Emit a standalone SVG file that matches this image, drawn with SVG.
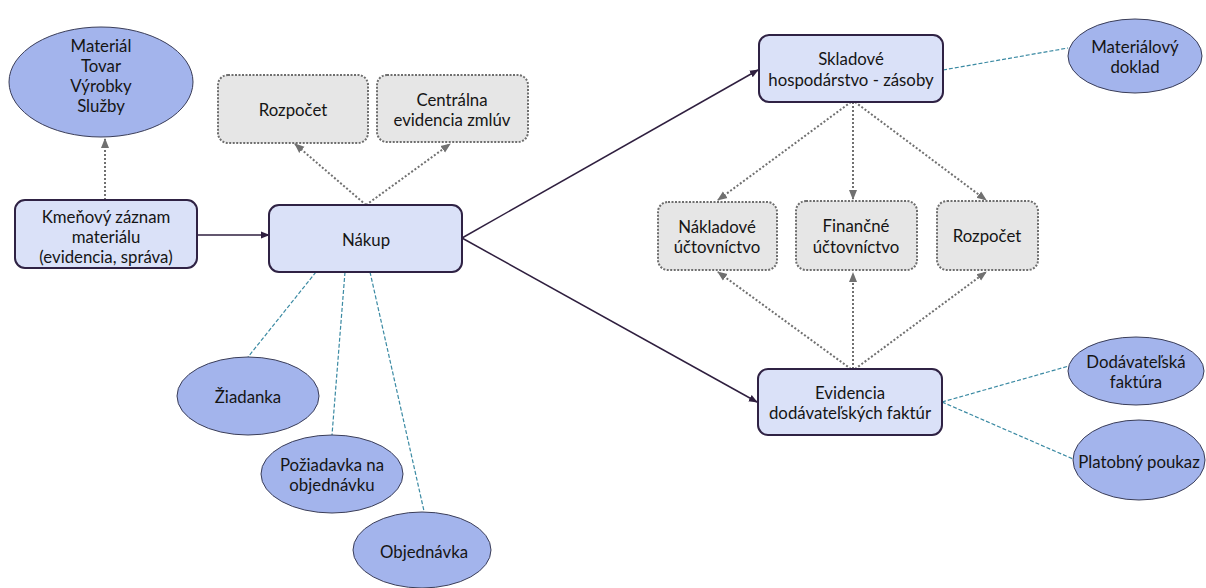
<svg xmlns="http://www.w3.org/2000/svg" width="1206" height="588" viewBox="0 0 1206 588">
<defs>
<style>
text{font-family:Lato,"Open Sans","Liberation Sans",sans-serif;font-size:16.8px;fill:#151515;text-anchor:middle;dominant-baseline:central}
.box{fill:#dae1f8;stroke:#2f2244;stroke-width:2}
.gray{fill:#e6e6e6;stroke:#6e6e6e;stroke-width:2;stroke-dasharray:2 1.5}
.ell{fill:#a3b4ec;stroke:#3a3d58;stroke-width:1}
.solid{stroke:#2f1f3f;stroke-width:1.5;fill:none}
.dot{stroke:#707070;stroke-width:2;stroke-dasharray:2 2;fill:none}
.dash{stroke:#3b8aa3;stroke-width:1.2;stroke-dasharray:4 2;fill:none}
</style>
<marker id="ah" viewBox="0 0 10 10" refX="9" refY="5" markerWidth="6" markerHeight="6" orient="auto"><path d="M0,1 L10,5 L0,9 z" fill="#2f1f3f"/></marker>
<marker id="ahg" viewBox="0 0 10 10" refX="9" refY="5" markerWidth="5" markerHeight="5" orient="auto"><path d="M0,1 L10,5 L0,9 z" fill="#707070"/></marker>
</defs>
<rect width="1206" height="588" fill="#ffffff"/>
<g id="connectors">
<line class="dot" x1="105" y1="200" x2="105" y2="139" marker-end="url(#ahg)"/>
<line class="solid" x1="197" y1="235" x2="269" y2="235" marker-end="url(#ah)"/>
<line class="dot" x1="366" y1="205" x2="295" y2="144" marker-end="url(#ahg)"/>
<line class="dot" x1="366" y1="205" x2="450" y2="144" marker-end="url(#ahg)"/>
<line class="solid" x1="462" y1="238" x2="758" y2="70" marker-end="url(#ah)"/>
<line class="solid" x1="462" y1="238" x2="757" y2="402" marker-end="url(#ah)"/>
<line class="dash" x1="943" y1="70" x2="1068" y2="48"/>
<line class="dot" x1="851" y1="102" x2="718" y2="200" marker-end="url(#ahg)"/>
<line class="dot" x1="853" y1="102" x2="853" y2="199" marker-end="url(#ahg)"/>
<line class="dot" x1="855" y1="102" x2="986" y2="200" marker-end="url(#ahg)"/>
<line class="dot" x1="851" y1="369" x2="718" y2="272" marker-end="url(#ahg)"/>
<line class="dot" x1="853" y1="369" x2="853" y2="273" marker-end="url(#ahg)"/>
<line class="dot" x1="855" y1="369" x2="986" y2="272" marker-end="url(#ahg)"/>
<line class="dash" x1="942" y1="402" x2="1069" y2="366"/>
<line class="dash" x1="942" y1="402" x2="1073" y2="459"/>
<line class="dash" x1="316" y1="272" x2="248" y2="357"/>
<line class="dash" x1="345" y1="272" x2="332" y2="435"/>
<line class="dash" x1="370" y1="272" x2="424" y2="511"/>
</g>
<g id="material">
<ellipse class="ell" cx="101" cy="82" rx="92" ry="55"/>
<text x="101" y="45">Materiál</text>
<text x="101" y="65">Tovar</text>
<text x="101" y="85">Výrobky</text>
<text x="101" y="105">Služby</text>
</g>
<g id="kmenovy">
<rect class="box" x="15" y="200" width="182" height="68" rx="10"/>
<text x="106" y="216">Kmeňový záznam</text>
<text x="106" y="236">materiálu</text>
<text x="106" y="256">(evidencia, správa)</text>
</g>
<g id="rozpocet1">
<rect class="gray" x="218" y="75" width="150" height="68" rx="10"/>
<text x="293" y="109">Rozpočet</text>
</g>
<g id="centralna">
<rect class="gray" x="377" y="75" width="151" height="67" rx="10"/>
<text x="452" y="99">Centrálna</text>
<text x="452" y="119">evidencia zmlúv</text>
</g>
<g id="nakup">
<rect class="box" x="269" y="205" width="193" height="67" rx="10"/>
<text x="366" y="239">Nákup</text>
</g>
<g id="skladove">
<rect class="box" x="759" y="35" width="184" height="67" rx="10"/>
<text x="851" y="58">Skladové</text>
<text x="851" y="79">hospodárstvo - zásoby</text>
</g>
<g id="materialovy">
<ellipse class="ell" cx="1135" cy="56" rx="67" ry="37"/>
<text x="1135" y="46">Materiálový</text>
<text x="1135" y="66">doklad</text>
</g>
<g id="nakladove">
<rect class="gray" x="658" y="202" width="119" height="68" rx="10"/>
<text x="717" y="226">Nákladové</text>
<text x="717" y="246">účtovníctvo</text>
</g>
<g id="financne">
<rect class="gray" x="796" y="201" width="121" height="69" rx="10"/>
<text x="856" y="225">Finančné</text>
<text x="856" y="246">účtovníctvo</text>
</g>
<g id="rozpocet2">
<rect class="gray" x="937" y="201" width="101" height="69" rx="10"/>
<text x="987" y="235">Rozpočet</text>
</g>
<g id="evidencia">
<rect class="box" x="758" y="369" width="184" height="66" rx="10"/>
<text x="850" y="392">Evidencia</text>
<text x="850" y="412">dodávateľských faktúr</text>
</g>
<g id="dodavatelska">
<ellipse class="ell" cx="1136" cy="371" rx="68" ry="34"/>
<text x="1136" y="361">Dodávateľská</text>
<text x="1136" y="381">faktúra</text>
</g>
<g id="platobny">
<ellipse class="ell" cx="1139" cy="460" rx="66" ry="40"/>
<text x="1139" y="461">Platobný poukaz</text>
</g>
<g id="ziadanka">
<ellipse class="ell" cx="248" cy="396" rx="71" ry="39"/>
<text x="248" y="396">Žiadanka</text>
</g>
<g id="poziadavka">
<ellipse class="ell" cx="332" cy="474" rx="71" ry="39"/>
<text x="332" y="464">Požiadavka na</text>
<text x="332" y="484">objednávku</text>
</g>
<g id="objednavka">
<ellipse class="ell" cx="422" cy="550" rx="69" ry="38"/>
<text x="424" y="551">Objednávka</text>
</g>
</svg>
